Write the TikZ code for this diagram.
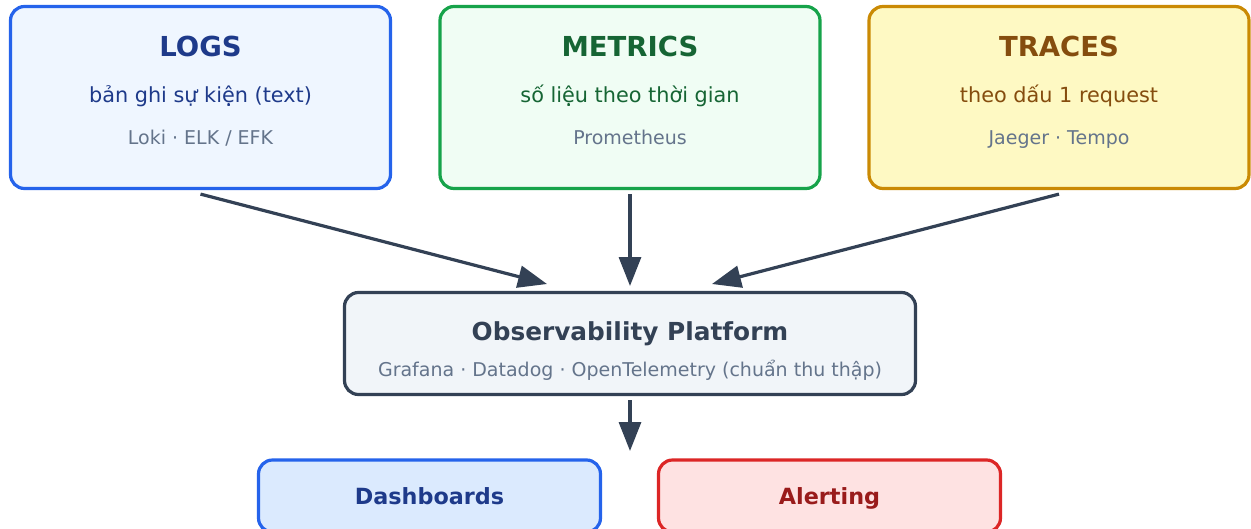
\documentclass[tikz,border=0pt]{standalone}
\usepackage{fontspec}
\setmainfont{DejaVu Sans}
\usetikzlibrary{arrows.meta}
\definecolor{logsB}{HTML}{2563EB}
\definecolor{logsF}{HTML}{EFF6FF}
\definecolor{logsT}{HTML}{1E3A8A}
\definecolor{metB}{HTML}{16A34A}
\definecolor{metF}{HTML}{F0FDF4}
\definecolor{metT}{HTML}{166534}
\definecolor{trB}{HTML}{CA8A04}
\definecolor{trF}{HTML}{FEF9C3}
\definecolor{trT}{HTML}{854D0E}
\definecolor{platB}{HTML}{334155}
\definecolor{platF}{HTML}{F1F5F9}
\definecolor{grayT}{HTML}{64748B}
\definecolor{dashF}{HTML}{DBEAFE}
\definecolor{alB}{HTML}{DC2626}
\definecolor{alF}{HTML}{FEE2E2}
\definecolor{alT}{HTML}{991B1B}
\tikzset{
  box/.style={draw, line width=3.2pt, rounded corners=14pt, inner sep=0pt},
  topbox/.style={box, minimum width=380pt, minimum height=182pt},
  txt/.style={inner sep=0pt, anchor=base},
  title/.style={txt, font=\fontsize{27.5}{32}\selectfont\bfseries},
  sub/.style={txt, font=\fontsize{20.8}{24}\selectfont},
  small/.style={txt, font=\fontsize{19}{22}\selectfont, text=grayT},
  arr/.style={draw=platB, line width=3.2pt, -{Triangle[length=29pt,width=22pt]}},
}
\begin{document}
\begin{tikzpicture}[x=1pt,y=-1pt]
\useasboundingbox (0,0) rectangle (1251,528);
% top boxes
\node[topbox, draw=logsB, fill=logsF] (logs) at (200.5,97.5) {};
\node[topbox, draw=metB, fill=metF] (metrics) at (630,97.5) {};
\node[topbox, draw=trB, fill=trF] (traces) at (1059,97.5) {};
\node[title, text=logsT] (logsT) at (200.5,56.5) {LOGS};
\node[sub, text=logsT] (logsS) at (200.5,102) {bản ghi sự kiện (text)};
\node[small] (logsX) at (200.5,144) {Loki · ELK / EFK};
\node[title, text=metT] (metT) at (630,56.5) {METRICS};
\node[sub, text=metT] (metS) at (630,102) {số liệu theo thời gian};
\node[small] (metX) at (630,144) {Prometheus};
\node[title, text=trT] (trT) at (1059,56.5) {TRACES};
\node[sub, text=trT] (trS) at (1059,102) {theo dấu 1 request};
\node[small] (trX) at (1059,144) {Jaeger · Tempo};
% platform
\node[box, draw=platB, fill=platF, minimum width=571pt, minimum height=102pt] (plat) at (630,343.5) {};
\node[txt, font=\fontsize{24.8}{28}\selectfont\bfseries, text=platB] (platT) at (630,340) {Observability Platform};
\node[small] (platX) at (630,376.5) {Grafana · Datadog · OpenTelemetry (chuẩn thu thập)};
% bottom boxes
\node[box, draw=logsB, fill=dashF, minimum width=342pt, minimum height=72pt] (dash) at (429.5,496) {};
\node[box, draw=alB, fill=alF, minimum width=342pt, minimum height=72pt] (alert) at (829.5,496) {};
\node[txt, font=\fontsize{22.3}{26}\selectfont\bfseries, text=logsT] (dashT) at (429.5,504.3) {Dashboards};
\node[txt, font=\fontsize{22.3}{26}\selectfont\bfseries, text=alT] (alertT) at (829.5,504.3) {Alerting};
% arrows
\coordinate (eL) at (547,284);
\coordinate (eM) at (630,286);
\coordinate (eR) at (712,284);
\coordinate (eB) at (630,451);
\draw[arr] ([yshift=-4pt]logs.south) -- (eL);
\draw[arr] ([yshift=-4pt]metrics.south) -- (eM);
\draw[arr] ([yshift=-4pt]traces.south) -- (eR);
\draw[arr] ([yshift=-4pt]plat.south) -- (eB);
\end{tikzpicture}
\end{document}
